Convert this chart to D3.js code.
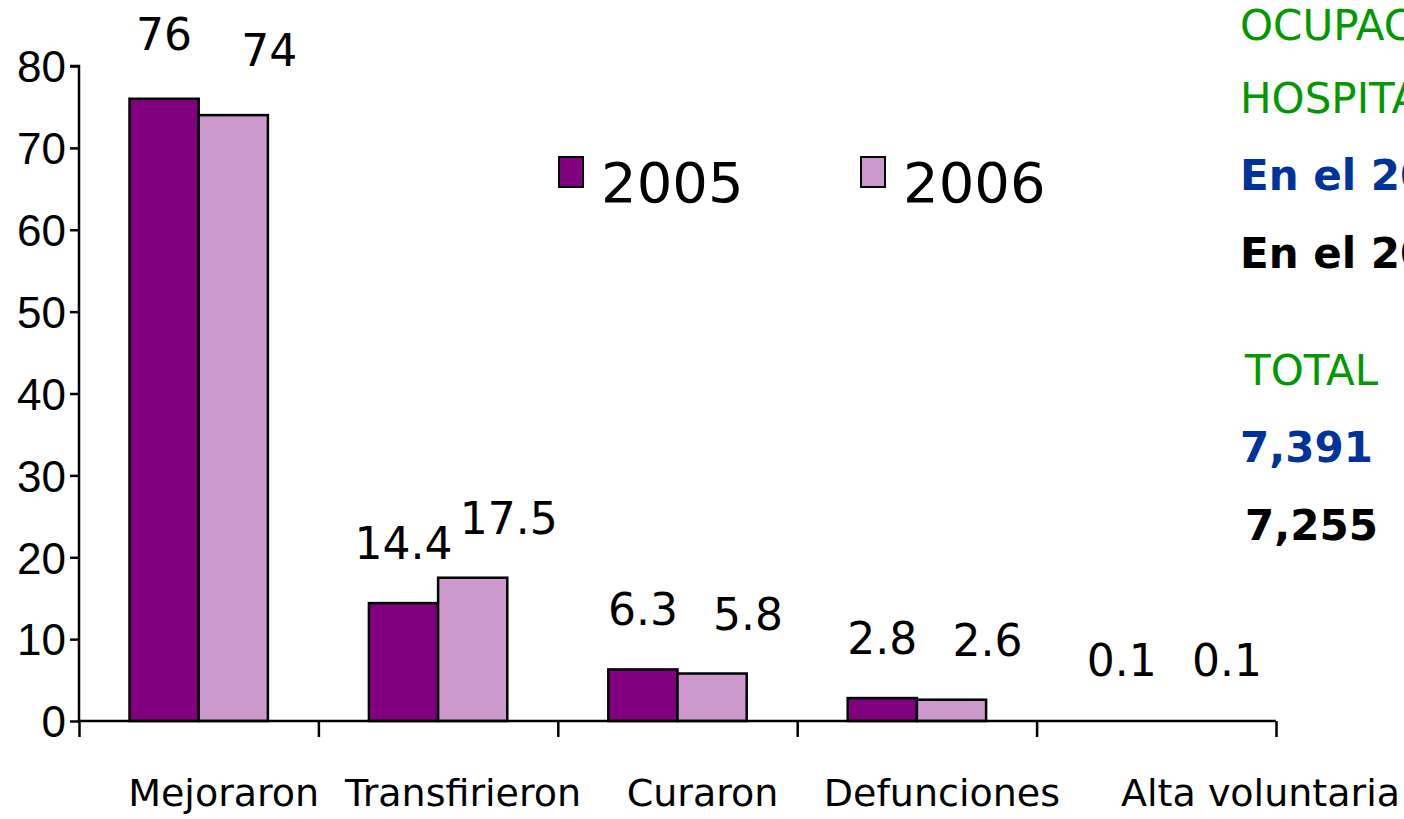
<!DOCTYPE html>
<html>
<head>
<meta charset="utf-8">
<script src="https://cdn.jsdelivr.net/npm/d3@7"></script>
<style>
  body { margin: 0; background: #fff; }
  svg { display: block; font-family: "DejaVu Sans", sans-serif; }
</style>
</head>
<body>
<svg id="chart" width="1404" height="819"></svg>
<script>
const categories = ['Mejoraron', 'Transfirieron', 'Curaron', 'Defunciones', 'Alta voluntaria'];
const years = ['2005', '2006'];
const values2005 = [76, 14.4, 6.3, 2.8, 0.1];
const values2006 = [74, 17.5, 5.8, 2.6, 0.1];
const yTicks = [0, 10, 20, 30, 40, 50, 60, 70, 80];
const sideNotes = [
  { text: 'OCUPACIÓN', color: '#009900', bold: false },
  { text: 'HOSPITALARIA', color: '#009900', bold: false },
  { text: 'En el 2005', color: '#003399', bold: true },
  { text: 'En el 2006', color: '#000000', bold: true },
  { text: 'TOTAL', color: '#009900', bold: false },
  { text: '7,391', color: '#003399', bold: true },
  { text: '7,255', color: '#000000', bold: true }
];

const colors = { '2005': '#800080', '2006': '#CC99CC' };
const series = { '2005': values2005, '2006': values2006 };

const svg = d3.select('#chart');

const plotLeft = 79, plotRight = 1276, plotTop = 66, plotBottom = 721;

const x = d3.scaleBand().domain(categories).range([plotLeft, plotRight]).padding(0);
const x1 = d3.scaleBand().domain(years).range([0, x.bandwidth()]).paddingInner(0).paddingOuter(0.73);
const y = d3.scaleLinear().domain([0, 80]).range([plotBottom, plotTop]);

// bars
const groups = svg.append('g').selectAll('g')
  .data(categories)
  .join('g')
  .attr('transform', d => `translate(${x(d)},0)`);

groups.selectAll('rect')
  .data((d, i) => years.map(yr => ({ yr, v: series[yr][i] })))
  .join('rect')
  .attr('x', d => x1(d.yr))
  .attr('y', d => y(d.v))
  .attr('width', x1.bandwidth())
  .attr('height', d => y(0) - y(d.v))
  .attr('fill', d => colors[d.yr])
  .attr('stroke', '#000')
  .attr('stroke-width', d => y(0) - y(d.v) < 2 ? 0 : 2.5);

// value labels
groups.selectAll('text.val')
  .data((d, i) => years.map(yr => ({ yr, v: series[yr][i] })))
  .join('text')
  .attr('class', 'val')
  .attr('x', d => x1(d.yr) + x1.bandwidth() / 2 + (d.yr === '2006' ? 36 : 0))
  .attr('y', d => y(d.v) - 44 - (d.v > 50 ? 5 : 0))
  .attr('text-anchor', 'middle')
  .style('font-size', '44px')
  .text(d => d.v);

// y axis
const yAxis = d3.axisLeft(y).tickValues(yTicks).tickSize(9).tickPadding(4).tickFormat(d3.format('d'));
const gy = svg.append('g').attr('transform', `translate(${plotLeft},0)`).call(yAxis);
gy.select('.domain').attr('stroke-width', 2.5).attr('d', `M-9,${plotTop}H0V${plotBottom}`);
gy.selectAll('.tick line').attr('stroke-width', 2.5);
gy.selectAll('.tick text').style('font-size', '44px').attr('fill', '#000').attr('dy', '0.36em');

// x axis, ticks on category boundaries
const bounds = d3.range(categories.length + 1);
const xb = d3.scaleLinear().domain([0, categories.length]).range([plotLeft, plotRight]);
const xAxis = d3.axisBottom(xb).tickValues(bounds).tickSize(16).tickFormat('');
const gx = svg.append('g').attr('transform', `translate(0,${plotBottom})`).call(xAxis);
gx.select('.domain').attr('stroke-width', 2.5).attr('d', `M${plotLeft},0H${plotRight}`);
gx.selectAll('.tick line').attr('stroke-width', 2.5);

// category labels: nudged right, kept apart, last one pushed to the edge
let prevRight = 0;
svg.append('g').selectAll('text')
  .data(categories)
  .join('text')
  .attr('y', 806)
  .attr('text-anchor', 'middle')
  .style('font-size', '38px')
  .text(d => d)
  .each(function (d) {
    const w = this.getComputedTextLength();
    let cx = Math.max(x(d) + x.bandwidth() / 2 + 25, prevRight + 24 + w / 2);
    if (d === categories[categories.length - 1]) cx = Math.max(cx, 1400 - w / 2);
    cx = Math.min(cx, 1402 - w / 2);
    prevRight = cx + w / 2;
    d3.select(this).attr('x', cx);
  });

// legend
const legend = svg.append('g').selectAll('g')
  .data(years)
  .join('g')
  .attr('transform', (d, i) => `translate(${559 + i * 302},157)`);
legend.append('rect')
  .attr('width', 24).attr('height', 30)
  .attr('fill', d => colors[d])
  .attr('stroke', '#000').attr('stroke-width', 2);
legend.append('text')
  .attr('x', 42).attr('y', 45)
  .style('font-size', '56px')
  .text(d => d);

// side notes, running off the right edge as in the original slide
const noteY = [40, 113, 190, 268, 385, 462, 540];
svg.append('g').selectAll('text')
  .data(sideNotes)
  .join('text')
  .attr('x', (d, i) => i === 4 || i === 6 ? 1245 : 1240)
  .attr('y', (d, i) => noteY[i])
  .attr('fill', d => d.color)
  .attr('font-weight', d => d.bold ? 'bold' : 'normal')
  .style('font-size', '42px')
  .text(d => d.text);
</script>
</body>
</html>
